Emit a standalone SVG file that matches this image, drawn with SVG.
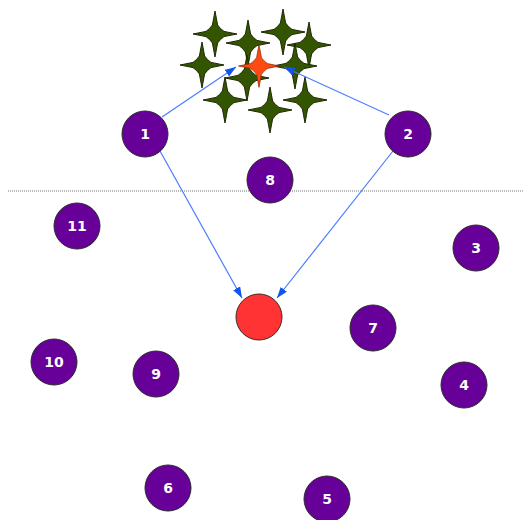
<svg xmlns="http://www.w3.org/2000/svg" width="524" height="520" viewBox="0 0 524 520">
<style>
.n{fill:#660099;stroke:#2a2a2a;stroke-width:1}
.t{fill:#ffffff;font-family:"DejaVu Sans",sans-serif;font-size:14px;font-weight:bold;text-anchor:middle}
.e{stroke:#4a7dff;stroke-width:1.2;fill:none;marker-end:url(#ah)}
.s{fill:#335500;stroke:#1f2a05;stroke-width:1}
</style>
<defs>
<marker id="ah" markerUnits="userSpaceOnUse" markerWidth="12" markerHeight="10" refX="11" refY="4" orient="auto">
<path d="M0,0 L11,4 L0,8 Z" fill="#1155ee"/>
</marker>
<path id="star" d="M0,-23 L2.6,-9 L5.5,-5.5 L9,-2.6 L22,0 L9,2.6 L5.5,5.5 L2.6,9 L0,23 L-2.6,9 L-5.5,5.5 L-9,2.6 L-22,0 L-9,-2.6 L-5.5,-5.5 L-2.6,-9 Z"/>
</defs>
<rect width="524" height="520" fill="#ffffff"/>
<line x1="8" y1="191" x2="524" y2="191" stroke="#777" stroke-width="1" stroke-dasharray="1,1"/>
<g id="stars">
<use href="#star" class="s" x="215" y="34"/>
<use href="#star" class="s" x="248" y="43"/>
<use href="#star" class="s" x="283" y="32"/>
<use href="#star" class="s" x="309" y="45"/>
<use href="#star" class="s" x="202" y="65"/>
<use href="#star" class="s" x="247" y="78"/>
<use href="#star" class="s" x="295" y="66"/>
<use href="#star" class="s" x="225" y="100"/>
<use href="#star" class="s" x="270" y="110"/>
<use href="#star" class="s" x="305" y="100"/>
</g>
<g id="target-star">
<use href="#star" x="259" y="66" fill="#ff4a14" stroke="#8a2a00" stroke-width="0.8" transform="translate(259 66) scale(0.93) translate(-259 -66)"/>
</g>
<g id="connectors">
<line class="e" x1="162" y1="117" x2="236" y2="67"/>
<line class="e" x1="389" y1="115" x2="284" y2="67"/>
<line class="e" x1="160" y1="151" x2="242" y2="298"/>
<line class="e" x1="393" y1="151" x2="277" y2="298"/>
</g>
<g id="node1"><circle class="n" cx="145" cy="134" r="23"/><text class="t" x="145" y="139">1</text></g>
<g id="node2"><circle class="n" cx="408" cy="134" r="23"/><text class="t" x="408" y="139">2</text></g>
<g id="node8"><circle class="n" cx="270" cy="180" r="23"/><text class="t" x="270" y="185">8</text></g>
<g id="node11"><circle class="n" cx="77" cy="226" r="23"/><text class="t" x="77" y="231">11</text></g>
<g id="node3"><circle class="n" cx="476" cy="248" r="23"/><text class="t" x="476" y="253">3</text></g>
<g id="target"><circle cx="259" cy="317" r="23" fill="#ff3333" stroke="#3a2a2a" stroke-width="1"/></g>
<g id="node7"><circle class="n" cx="373" cy="328" r="23"/><text class="t" x="373" y="333">7</text></g>
<g id="node10"><circle class="n" cx="54" cy="362" r="23"/><text class="t" x="54" y="367">10</text></g>
<g id="node9"><circle class="n" cx="156" cy="374" r="23"/><text class="t" x="156" y="379">9</text></g>
<g id="node4"><circle class="n" cx="464" cy="385" r="23"/><text class="t" x="464" y="390">4</text></g>
<g id="node6"><circle class="n" cx="168" cy="488" r="23"/><text class="t" x="168" y="493">6</text></g>
<g id="node5"><circle class="n" cx="327" cy="499" r="23"/><text class="t" x="327" y="504">5</text></g>
</svg>
